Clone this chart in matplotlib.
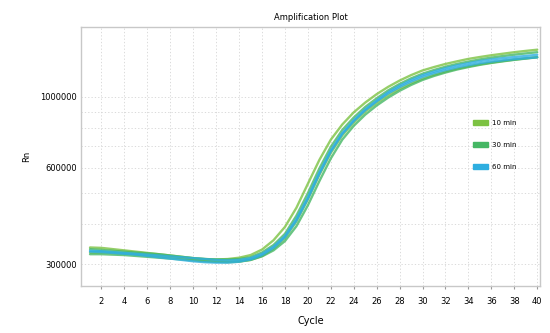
import numpy as np
import matplotlib
matplotlib.use("Agg")
import matplotlib.pyplot as plt
from matplotlib.patches import Patch
from matplotlib.ticker import LogLocator, NullFormatter, FixedLocator, FixedFormatter

cycles = np.arange(1, 41)

# Rn readings per cycle, two wells per incubation time
min10_a = [338000, 337000, 334000, 331000, 328000, 325000, 322000, 319000, 316000, 313000,
           311000, 310000, 311000, 314000, 320000, 333000, 356000, 392000, 450000, 535000,
           635000, 735000, 820000, 895000, 960000, 1020000, 1075000, 1125000, 1170000, 1210000,
           1240000, 1268000, 1292000, 1315000, 1333000, 1350000, 1365000, 1380000, 1393000, 1405000]
min10_b = [326000, 326000, 325000, 324000, 322000, 320000, 318000, 316000, 313000, 310000,
           307000, 305000, 304000, 305000, 309000, 318000, 335000, 362000, 408000, 478000,
           570000, 668000, 758000, 832000, 900000, 958000, 1012000, 1060000, 1102000, 1140000,
           1172000, 1200000, 1225000, 1246000, 1265000, 1281000, 1295000, 1308000, 1320000, 1332000]
min30_a = [334000, 332000, 330000, 328000, 326000, 324000, 322000, 319000, 316000, 313000,
           311000, 310000, 310000, 311000, 315000, 326000, 344000, 373000, 425000, 500000,
           597000, 698000, 788000, 862000, 930000, 990000, 1048000, 1098000, 1143000, 1182000,
           1214000, 1243000, 1268000, 1290000, 1310000, 1327000, 1342000, 1356000, 1368000, 1380000]
min30_b = [322000, 322000, 321000, 320000, 318000, 316000, 314000, 312000, 310000, 308000,
           306000, 305000, 305000, 306000, 309000, 317000, 331000, 354000, 394000, 458000,
           545000, 642000, 735000, 812000, 880000, 940000, 995000, 1045000, 1090000, 1130000,
           1163000, 1192000, 1218000, 1240000, 1260000, 1277000, 1292000, 1306000, 1318000, 1330000]
min60_a = [328000, 327000, 325000, 323000, 321000, 318000, 315000, 312000, 309000, 306000,
           304000, 303000, 303000, 305000, 310000, 320000, 337000, 364000, 410000, 480000,
           574000, 674000, 765000, 840000, 908000, 968000, 1025000, 1073000, 1116000, 1155000,
           1186000, 1213000, 1237000, 1257000, 1275000, 1290000, 1302000, 1313000, 1322000, 1330000]
min60_b = [330000, 329000, 327000, 325000, 323000, 321000, 319000, 317000, 315000, 313000,
           311000, 309000, 308000, 309000, 313000, 323000, 340000, 367000, 415000, 485000,
           580000, 680000, 770000, 845000, 915000, 975000, 1035000, 1085000, 1130000, 1170000,
           1200000, 1230000, 1255000, 1275000, 1295000, 1310000, 1322000, 1333000, 1343000, 1355000]

labels = ["10 min", "30 min", "60 min"]
colors = ["#7cc242", "#45b764", "#2eaee0"]
groups = [[min10_a, min10_b], [min30_a, min30_b], [min60_a, min60_b]]

fig = plt.figure(figsize=(5.5, 3.33), dpi=100)
ax = fig.add_axes([0.147, 0.141, 0.835, 0.778])

for wells, c in zip(groups, colors):
    for w in wells:
        ax.plot(cycles, w, color=c, lw=1.7, alpha=0.8, solid_capstyle="round")

ax.set_yscale("log")
ax.set_ylim(256000, 1655000)
ax.set_xlim(0.2, 40.25)

ax.yaxis.set_major_locator(FixedLocator([300000, 600000, 1000000]))
ax.yaxis.set_major_formatter(FixedFormatter(["300000", "600000", "1000000"]))
ax.yaxis.set_minor_locator(LogLocator(base=10, subs=np.arange(2, 10)))
ax.yaxis.set_minor_formatter(NullFormatter())
ax.set_xticks(np.arange(2, 41, 2))

ax.grid(True, which="both", color="#d4d4d4", ls=(0, (1.5, 2.5)), lw=0.6)
ax.tick_params(axis="x", labelsize=6, length=2, color="#999999", pad=6)
ax.tick_params(axis="y", which="both", length=0, labelsize=6, pad=3)
for s in ax.spines.values():
    s.set_color("#c8c8c8")
    s.set_linewidth(1.0)

ax.set_title("Amplification Plot", fontsize=6, pad=5)
ax.set_xlabel("Cycle", fontsize=7, labelpad=7)
ax.set_ylabel("Rn", fontsize=6, labelpad=6)

handles = [Patch(facecolor=c, edgecolor=c) for c in colors]
ax.legend(handles, labels, loc="center left", bbox_to_anchor=(0.84, 0.545),
          frameon=False, fontsize=5, handlelength=2.2, handleheight=0.8,
          labelspacing=2.3, handletextpad=0.6)

fig.savefig("out.png", dpi=100)
